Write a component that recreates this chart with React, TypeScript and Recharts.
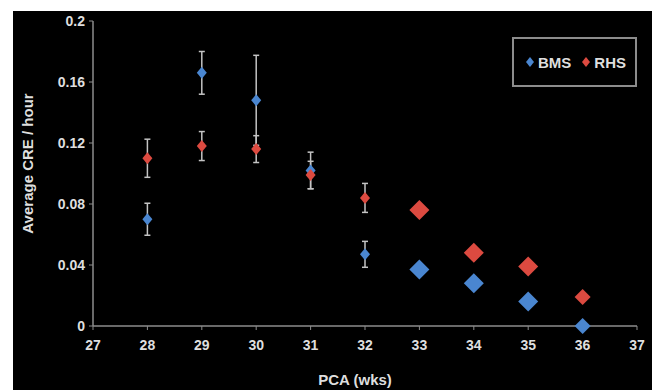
import React from "react";
import {
  ErrorBar,
  Scatter,
  ScatterChart,
  XAxis,
  YAxis,
} from "recharts";

// data (null = error bar hidden behind the marker)
const weeks = [28, 29, 30, 31, 32, 33, 34, 35, 36];
const bmsValues = [0.07, 0.166, 0.148, 0.102, 0.047, 0.037, 0.028, 0.016, 0.0];
const bmsErrors = [0.0105, 0.014, 0.0295, 0.012, 0.0085, null, null, null, null];
const rhsValues = [0.11, 0.118, 0.116, 0.099, 0.084, 0.076, 0.048, 0.039, 0.019];
const rhsErrors = [0.0125, 0.0095, 0.0088, 0.009, 0.0095, null, null, null, null];
const xTicks = [27, 28, 29, 30, 31, 32, 33, 34, 35, 36, 37];
const yTicks = [0, 0.04, 0.08, 0.12, 0.16, 0.2];

const bmsData = weeks.map((week, i) => ({ week, value: bmsValues[i], err: bmsErrors[i] }));
const rhsData = weeks.map((week, i) => ({ week, value: rhsValues[i], err: rhsErrors[i] }));

const BLUE = "#4a86d0";
const RED = "#dc4a40";
const TEXT = "#dedede";
const AXIS = "#8c8c8c";
const ERR = "#c4c4c4";
const FONT = "'Liberation Sans', Arial, sans-serif";

// marker half-size per week (later weeks drawn larger in the original)
function markerHalf(week: number) {
  if (week >= 33 && week <= 35) return { w: 10, h: 10 };
  if (week === 36) return { w: 8, h: 8 };
  return { w: 5, h: 6 };
}

function diamond(color: string) {
  return (props: any) => {
    const { cx, cy, payload } = props;
    if (cx == null || cy == null) return <g />;
    const { w, h } = markerHalf(payload.week);
    return (
      <polygon
        points={`${cx},${cy - h} ${cx + w},${cy} ${cx},${cy + h} ${cx - w},${cy}`}
        fill={color}
      />
    );
  };
}

const noMarker = () => <g />;

function LegendBox() {
  const item = (color: string, label: string) => (
    <div style={{ display: "flex", alignItems: "center", marginRight: 10 }}>
      <svg width={10} height={10} style={{ marginRight: 3 }}>
        <polygon points="5,0 9,5 5,10 1,5" fill={color} />
      </svg>
      <span style={{ color: TEXT, fontWeight: "bold", fontSize: 15, fontFamily: FONT }}>
        {label}
      </span>
    </div>
  );
  return (
    <div
      style={{
        position: "absolute",
        left: 499,
        top: 26,
        width: 110,
        height: 46,
        border: `2px solid ${AXIS}`,
        display: "flex",
        alignItems: "center",
        paddingLeft: 11,
        boxSizing: "content-box",
      }}
    >
      {item(BLUE, "BMS")}
      {item(RED, "RHS")}
    </div>
  );
}

const tickStyle = { fill: TEXT, fontSize: 14, fontWeight: "bold", fontFamily: FONT };

export default function App() {
  return (
    <div
      style={{
        position: "absolute",
        left: 0,
        top: 0,
        width: 652,
        height: 390,
        background: "#fff",
        overflow: "hidden",
      }}
    >
      <div
        style={{
          position: "absolute",
          left: 13,
          top: 11,
          width: 639,
          height: 379,
          background: "#000",
        }}
      >
        <ScatterChart
          width={639}
          height={379}
          margin={{ top: 10, right: 15, left: 0, bottom: 0 }}
        >
          <XAxis
            type="number"
            dataKey="week"
            domain={[27, 37]}
            ticks={xTicks}
            interval={0}
            height={64}
            tick={tickStyle}
            tickSize={4}
            tickMargin={10}
            axisLine={{ stroke: AXIS, strokeWidth: 1.5 }}
            tickLine={{ stroke: AXIS }}
            label={(p: any) => {
              const { x, y, width } = p.viewBox;
              return (
                <text
                  x={x + width / 2 - 10}
                  y={y + 59}
                  textAnchor="middle"
                  fill={TEXT}
                  fontSize={15}
                  fontWeight="bold"
                  fontFamily={FONT}
                >
                  PCA (wks)
                </text>
              );
            }}
          />
          <YAxis
            type="number"
            dataKey="value"
            domain={[0, 0.2]}
            ticks={yTicks}
            interval={0}
            width={80}
            tick={tickStyle}
            tickSize={4}
            tickMargin={4}
            axisLine={{ stroke: AXIS, strokeWidth: 1.5 }}
            tickLine={{ stroke: AXIS }}
            label={(p: any) => {
              const { y, height } = p.viewBox;
              const cx = 14;
              const cy = y + height / 2 - 10;
              return (
                <text
                  x={cx}
                  y={cy}
                  transform={`rotate(-90, ${cx}, ${cy})`}
                  textAnchor="middle"
                  dominantBaseline="central"
                  fill={TEXT}
                  fontSize={15}
                  fontWeight="bold"
                  fontFamily={FONT}
                >
                  Average CRE / hour
                </text>
              );
            }}
          />
          <Scatter data={bmsData} shape={noMarker} isAnimationActive={false}>
            <ErrorBar dataKey="err" direction="y" width={3} stroke={ERR} strokeWidth={1.5} />
          </Scatter>
          <Scatter
            name="BMS"
            data={bmsData}
            fill={BLUE}
            shape={diamond(BLUE)}
            isAnimationActive={false}
          />
          <Scatter data={rhsData} shape={noMarker} isAnimationActive={false}>
            <ErrorBar dataKey="err" direction="y" width={3} stroke={ERR} strokeWidth={1.5} />
          </Scatter>
          <Scatter
            name="RHS"
            data={rhsData}
            fill={RED}
            shape={diamond(RED)}
            isAnimationActive={false}
          />
        </ScatterChart>
        <LegendBox />
      </div>
    </div>
  );
}
